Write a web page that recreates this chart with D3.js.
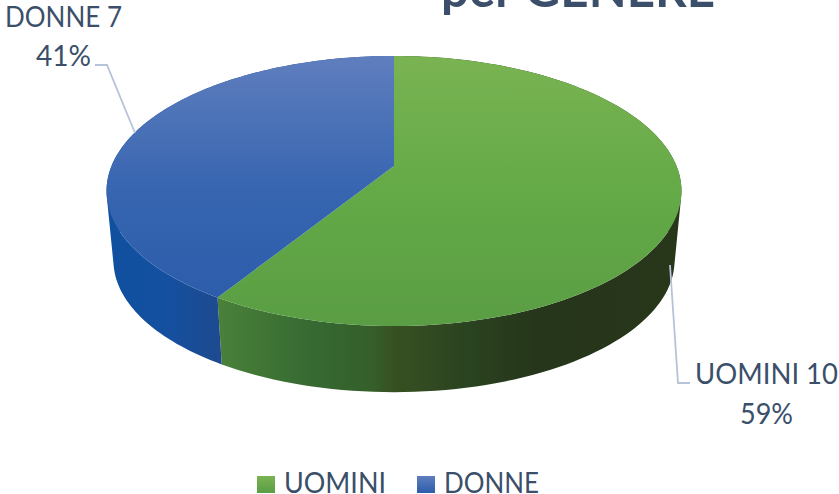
<!DOCTYPE html>
<html>
<head>
<meta charset="utf-8">
<script src="https://cdn.jsdelivr.net/npm/d3@7"></script>
<style>
  html, body { margin: 0; padding: 0; background: #fff; }
  svg { display: block; font-family: Lato, "Open Sans", sans-serif; }
</style>
</head>
<body>
<div id="chart"></div>
<script>
// chart data
const categories = ['UOMINI', 'DONNE']
const counts = [10, 7]
const percentLabels = ['59%', '41%']
const titleText = 'per GENERE'

const width = 839, height = 494
const textColor = '#3b4f6b'

const svg = d3.select('#chart')
  .append('svg')
  .attr('width', width)
  .attr('height', height)

// pie centre and tilt, the front of the disc is drawn bigger than the back
const cx = 394, cy = 166
const radiusX = 282.5, radiusY = 130.4, tilt = -0.185
const depth = 70, bottomScale = 0.976

function rim(angle) {
  const u = Math.sin(angle), v = -Math.cos(angle)
  const d = 1 + tilt * v
  return [cx + radiusX * u / d, cy + radiusY * v / d]
}

function rimBottom(angle) {
  const p = rim(angle)
  return [cx + (p[0] - cx) * bottomScale, cy + depth + (p[1] - cy) * bottomScale]
}

const pie = d3.pie().sort(null).startAngle(0).endAngle(2 * Math.PI)
const slices = pie(counts)
const line = d3.line()

function sampleAngles(a0, a1) {
  return d3.range(0, 121).map(i => a0 + (a1 - a0) * i / 120)
}

// gradients
const defs = svg.append('defs')

function addGradient(id, x1, y1, x2, y2, stops) {
  const g = defs.append('linearGradient')
    .attr('id', id)
    .attr('gradientUnits', 'userSpaceOnUse')
    .attr('x1', x1).attr('y1', y1)
    .attr('x2', x2).attr('y2', y2)
  stops.forEach(s => g.append('stop').attr('offset', s[0]).attr('stop-color', s[1]))
}

addGradient('top-0', 0, 56, 0, 326, [[0, '#7ab352'], [0.5, '#64aa47'], [1, '#5a9d44']])
addGradient('top-1', 0, 56, 0, 300, [[0, '#5f7ebe'], [0.55, '#3765b0'], [1, '#2c5dab']])
addGradient('side-0', 218, 0, 672, 0, [
  [0, '#4a8139'], [0.2, '#366a32'], [0.34, '#355f2a'], [0.39, '#375022'],
  [0.55, '#2a4320'], [0.7, '#26361a'], [1, '#28361a']
])
addGradient('side-1', 107, 0, 222, 0, [[0, '#0f509f'], [0.5, '#1450a0'], [1, '#1e4a8f']])
addGradient('legend-0', 0, 476, 0, 493, [[0, '#7ab352'], [1, '#5a9d44']])
addGradient('legend-1', 0, 476, 0, 493, [[0, '#5f7ebe'], [1, '#2c5dab']])

// side wall of each slice as one path of small quads, all wound the same way
slices.forEach((s, i) => {
  const angles = sampleAngles(s.startAngle, s.endAngle)
  const quads = d3.pairs(angles).map(([a, b]) => {
    const q = [rim(a), rim(b), rimBottom(b), rimBottom(a)]
    if (d3.polygonArea(q) < 0) q.reverse()
    return line(q) + 'Z'
  })
  svg.append('path')
    .attr('d', quads.join(''))
    .attr('fill', 'url(#side-' + i + ')')
})

// top faces
slices.forEach((s, i) => {
  const angles = sampleAngles(s.startAngle, s.endAngle)
  const pts = [[cx, cy]].concat(angles.map(rim))
  svg.append('path')
    .attr('d', line(pts) + 'Z')
    .attr('fill', 'url(#top-' + i + ')')
})

// leader lines
const leaders = [
  [[670, 265], [678, 383], [690, 383]],
  [[135, 133], [107, 65], [95, 65]]
]
leaders.forEach(l => {
  svg.append('path')
    .attr('d', line(l))
    .attr('fill', 'none')
    .attr('stroke', '#b7c3d8')
    .attr('stroke-width', 1.8)
})

// data labels
const labelPos = [[766.5, 384, 423.5], [63.5, 27, 66]]
const labelWidths = [143, 117]
const percentWidths = [53, 55]
slices.forEach((s, i) => {
  const t = svg.append('g')
    .attr('fill', textColor)
    .attr('font-size', 29)
    .attr('text-anchor', 'middle')
  t.append('text')
    .attr('x', labelPos[i][0])
    .attr('y', labelPos[i][1])
    .attr('textLength', labelWidths[i])
    .attr('lengthAdjust', 'spacingAndGlyphs')
    .text(categories[i] + ' ' + counts[i])
  t.append('text')
    .attr('x', labelPos[i][0])
    .attr('y', labelPos[i][2])
    .attr('textLength', percentWidths[i])
    .attr('lengthAdjust', 'spacingAndGlyphs')
    .text(percentLabels[i])
})

// title, cut by the top of the picture
svg.append('text')
  .attr('x', 578)
  .attr('y', 7)
  .attr('text-anchor', 'middle')
  .attr('font-size', 50)
  .attr('font-weight', 700)
  .attr('fill', textColor)
  .attr('textLength', 274)
  .attr('lengthAdjust', 'spacingAndGlyphs')
  .text(titleText)

// legend
const legendX = [257, 417]
const legendWidths = [102, 95]
categories.forEach((c, i) => {
  svg.append('rect')
    .attr('x', legendX[i])
    .attr('y', 476)
    .attr('width', 18)
    .attr('height', 17)
    .attr('fill', 'url(#legend-' + i + ')')
  svg.append('text')
    .attr('x', legendX[i] + 27)
    .attr('y', 492.5)
    .attr('font-size', 29)
    .attr('fill', textColor)
    .attr('textLength', legendWidths[i])
    .attr('lengthAdjust', 'spacingAndGlyphs')
    .text(c)
})
</script>
</body>
</html>
